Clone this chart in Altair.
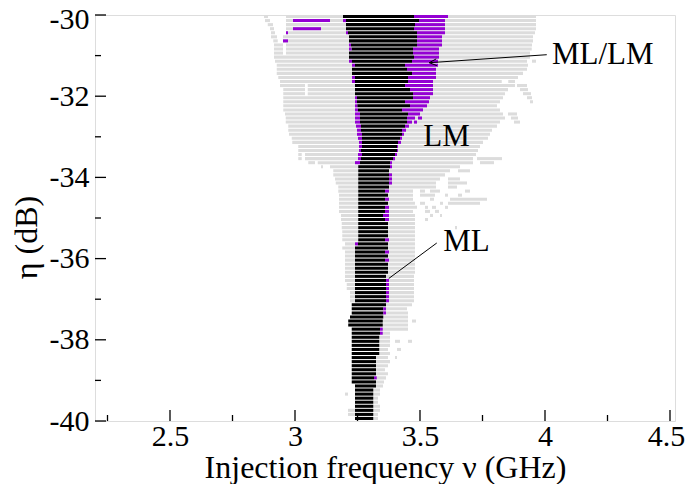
import altair as alt
import pandas as pd

# ---- data (η rows in dB, frequencies in GHz) ----
eta = [-30.0, -30.1, -30.2, -30.3, -30.4, -30.5, -30.6, -30.7, -30.8, -30.9,
       -31.0, -31.1, -31.2, -31.3, -31.4, -31.5, -31.6, -31.7, -31.8, -31.9,
       -32.0, -32.1, -32.2, -32.3, -32.4, -32.5, -32.6, -32.7, -32.8, -32.9,
       -33.0, -33.1, -33.2, -33.3, -33.4, -33.5, -33.6, -33.7, -33.8, -33.9,
       -34.0, -34.1, -34.2, -34.3, -34.4, -34.5, -34.6, -34.7, -34.8, -34.9,
       -35.0, -35.1, -35.2, -35.3, -35.4, -35.5, -35.6, -35.7, -35.8, -35.9,
       -36.0, -36.1, -36.2, -36.3, -36.4, -36.5, -36.6, -36.7, -36.8, -36.9,
       -37.0, -37.1, -37.2, -37.3, -37.4, -37.5, -37.6, -37.7, -37.8, -37.9,
       -38.0, -38.1, -38.2, -38.3, -38.4, -38.5, -38.6, -38.7, -38.8, -38.9,
       -39.0, -39.1, -39.2, -39.3, -39.4, -39.5, -39.6, -39.7, -39.8, -39.9]

gray_left = [2.876, 2.880, 2.891, 2.900, 2.904, 2.904, 2.913, 2.916, 2.916, 2.916,
             2.916, 2.920, 2.927, 2.927, 2.927, 2.933, 2.940, 2.940, 2.953, 2.953,
             2.953, 2.953, 2.953, 2.953, 2.960, 2.963, 2.963, 2.973, 2.973, 2.976,
             2.987, 2.989, 3.013, 3.013, 3.013, 3.013, 3.053, 3.104, 3.153, 3.153,
             3.160, 3.163, 3.173, 3.173, 3.176, 3.176, 3.176, 3.176, 3.176, 3.184,
             3.184, 3.187, 3.187, 3.189, 3.189, 3.189, 3.200, 3.189, 3.200, 3.200,
             3.200, 3.200, 3.200, 3.200, 3.200, 3.200, 3.207, 3.207, 3.220, 3.220,
             3.220, 3.227, 3.227, 3.227, 3.220, 3.213, 3.213, 3.227, 3.227, 3.227,
             3.227, 3.227, 3.227, 3.227, 3.227, 3.227, 3.227, 3.227, 3.227, 3.227,
             3.227, 3.240, 3.240, 3.240, 3.240, 3.240, 3.240, 3.240, 3.240, 3.240]

gray_right = [3.964, 3.964, 3.964, 3.964, 3.960, 3.952, 3.952, 3.948, 3.947, 3.940,
              3.940, 3.928, 3.932, 3.928, 3.912, 3.892, 3.880, 3.880, 3.852, 3.840,
              3.832, 3.820, 3.808, 3.820, 3.832, 3.840, 3.820, 3.808, 3.788, 3.780,
              3.772, 3.752, 3.740, 3.732, 3.724, 3.712, 3.712, 3.660, 3.620, 3.600,
              3.580, 3.564, 3.564, 3.472, 3.472, 3.472, 3.480, 3.488, 3.472, 3.480,
              3.480, 3.480, 3.480, 3.480, 3.480, 3.480, 3.480, 3.480, 3.480, 3.480,
              3.480, 3.480, 3.480, 3.480, 3.476, 3.476, 3.476, 3.476, 3.476, 3.476,
              3.476, 3.468, 3.448, 3.452, 3.452, 3.452, 3.452, 3.452, 3.380, 3.380,
              3.380, 3.380, 3.372, 3.380, 3.372, 3.380, 3.372, 3.360, 3.372, 3.364,
              3.356, 3.352, 3.340, 3.340, 3.332, 3.332, 3.340, 3.340, 3.332, 3.332]

black_left = [3.192, 3.204, 3.204, 3.204, 3.212, 3.216, 3.216, 3.224, 3.226, 3.216,
              3.216, 3.228, 3.240, 3.228, 3.228, 3.240, 3.240, 3.240, 3.240, 3.240,
              3.248, 3.248, 3.249, 3.252, 3.260, 3.260, 3.260, 3.264, 3.264, 3.268,
              3.268, 3.268, 3.268, 3.264, 3.268, 3.264, 3.260, 3.253, 3.253, 3.253,
              3.253, 3.253, 3.253, 3.253, 3.253, 3.253, 3.253, 3.253, 3.253, 3.253,
              3.253, 3.253, 3.253, 3.253, 3.253, 3.253, 3.252, 3.240, 3.240, 3.240,
              3.240, 3.240, 3.240, 3.240, 3.240, 3.240, 3.240, 3.240, 3.240, 3.240,
              3.240, 3.227, 3.227, 3.227, 3.220, 3.213, 3.213, 3.227, 3.227, 3.227,
              3.227, 3.227, 3.227, 3.227, 3.227, 3.227, 3.227, 3.227, 3.227, 3.227,
              3.227, 3.240, 3.240, 3.240, 3.240, 3.240, 3.240, 3.240, 3.240, 3.240]

black_right = [3.476, 3.496, 3.480, 3.476, 3.488, 3.488, 3.488, 3.488, 3.472, 3.472,
               3.476, 3.468, 3.440, 3.448, 3.468, 3.452, 3.452, 3.440, 3.460, 3.472,
               3.472, 3.440, 3.460, 3.428, 3.452, 3.448, 3.448, 3.440, 3.428, 3.428,
               3.420, 3.412, 3.408, 3.408, 3.400, 3.392, 3.380, 3.380, 3.376, 3.376,
               3.376, 3.376, 3.376, 3.360, 3.372, 3.360, 3.372, 3.360, 3.360, 3.352,
               3.360, 3.372, 3.372, 3.372, 3.372, 3.360, 3.372, 3.372, 3.360, 3.372,
               3.360, 3.372, 3.372, 3.372, 3.364, 3.364, 3.364, 3.364, 3.364, 3.364,
               3.364, 3.364, 3.353, 3.353, 3.353, 3.351, 3.351, 3.340, 3.340, 3.337,
               3.337, 3.337, 3.337, 3.337, 3.324, 3.324, 3.324, 3.324, 3.324, 3.316,
               3.324, 3.324, 3.313, 3.313, 3.313, 3.313, 3.313, 3.313, 3.313, 3.313]

# purple (ML/LM) on the left of the black band starts here (== black_left: none)
purple_left = [3.192, 3.192, 3.204, 3.204, 3.204, 3.216, 3.216, 3.216, 3.216, 3.216,
               3.216, 3.216, 3.228, 3.228, 3.228, 3.228, 3.228, 3.240, 3.240, 3.240,
               3.240, 3.240, 3.240, 3.240, 3.240, 3.240, 3.240, 3.244, 3.248, 3.248,
               3.252, 3.256, 3.256, 3.256, 3.252, 3.252, 3.240, 3.253, 3.253, 3.253,
               3.253, 3.253, 3.253, 3.253, 3.253, 3.253, 3.253, 3.253, 3.253, 3.253,
               3.253, 3.253, 3.253, 3.253, 3.253, 3.253, 3.240, 3.240, 3.240, 3.240,
               3.240, 3.240, 3.240, 3.240, 3.240, 3.240, 3.240, 3.240, 3.240, 3.240,
               3.240, 3.227, 3.227, 3.227, 3.220, 3.213, 3.213, 3.227, 3.227, 3.227,
               3.227, 3.227, 3.227, 3.227, 3.227, 3.227, 3.227, 3.227, 3.227, 3.227,
               3.227, 3.240, 3.240, 3.240, 3.240, 3.240, 3.240, 3.240, 3.240, 3.240]

# purple (ML/LM) on the right of the black band ends here (== black_right: none)
purple_right = [3.612, 3.600, 3.600, 3.600, 3.600, 3.588, 3.588, 3.588, 3.576, 3.576,
                3.576, 3.572, 3.572, 3.564, 3.564, 3.564, 3.552, 3.552, 3.552, 3.552,
                3.540, 3.536, 3.528, 3.512, 3.500, 3.480, 3.468, 3.456, 3.444, 3.436,
                3.428, 3.424, 3.412, 3.412, 3.408, 3.400, 3.388, 3.388, 3.376, 3.388,
                3.388, 3.388, 3.376, 3.376, 3.372, 3.376, 3.372, 3.376, 3.376, 3.376,
                3.376, 3.372, 3.372, 3.372, 3.372, 3.376, 3.372, 3.372, 3.376, 3.372,
                3.376, 3.372, 3.372, 3.372, 3.364, 3.376, 3.376, 3.376, 3.376, 3.376,
                3.376, 3.364, 3.364, 3.364, 3.353, 3.351, 3.351, 3.351, 3.351, 3.337,
                3.337, 3.337, 3.337, 3.337, 3.324, 3.324, 3.324, 3.324, 3.324, 3.327,
                3.324, 3.324, 3.313, 3.313, 3.313, 3.313, 3.313, 3.313, 3.313, 3.313]

# white holes inside the grey rows: (row index, from, to)
gray_gaps = [(0, 2.892, 2.964), (1, 2.900, 2.964), (2, 2.912, 2.964), (3, 2.916, 2.964),
             (4, 2.920, 2.964), (5, 2.928, 2.952), (6, 2.931, 2.952), (7, 2.952, 2.964),
             (8, 2.952, 2.964), (9, 2.952, 2.964), (16, 3.827, 3.853),
             (17, 3.040, 3.051), (18, 3.040, 3.051), (19, 3.040, 3.051),
             (34, 3.027, 3.040), (35, 3.027, 3.040), (36, 3.080, 3.091), (37, 3.112, 3.140)]

# detached grey pieces (the "feathers"): (row index, from, to)
gray_pieces = [(11, 3.948, 3.964), (17, 3.888, 3.928), (18, 3.900, 3.932), (19, 3.912, 3.944),
               (20, 3.928, 3.948), (21, 3.940, 3.952), (24, 3.852, 3.888), (25, 3.864, 3.892),
               (26, 3.876, 3.900), (35, 3.728, 3.828), (36, 3.740, 3.796), (38, 3.652, 3.700),
               (40, 3.612, 3.660), (41, 3.612, 3.688), (42, 3.612, 3.648),
               (43, 3.500, 3.520), (43, 3.540, 3.580), (43, 3.680, 3.700),
               (44, 3.500, 3.560), (44, 3.600, 3.612), (44, 3.652, 3.668),
               (45, 3.540, 3.556), (45, 3.620, 3.768),
               (46, 3.500, 3.520), (46, 3.580, 3.592), (46, 3.612, 3.740),
               (47, 3.520, 3.532), (47, 3.548, 3.564), (47, 3.600, 3.612),
               (48, 3.520, 3.540), (48, 3.560, 3.576), (49, 3.540, 3.552), (49, 3.580, 3.588),
               (50, 3.520, 3.532), (52, 3.640, 3.648), (75, 3.468, 3.484),
               (80, 3.400, 3.420), (80, 3.452, 3.468), (82, 3.408, 3.424), (84, 3.400, 3.408),
               (93, 3.200, 3.212), (97, 3.212, 3.240), (98, 3.212, 3.240)]

# detached purple pieces: (row index, from, to)
purple_pieces = [(1, 2.992, 3.140), (3, 2.992, 3.104), (4, 2.964, 2.972), (6, 2.952, 2.972),
                 (25, 3.492, 3.508), (26, 3.476, 3.488)]

tick_major_x = [2.5, 3.0, 3.5, 4.0, 4.5]
tick_minor_x = [2.25, 2.75, 3.25, 3.75, 4.25]
tick_major_y = [-40, -38, -36, -34, -32, -30]
tick_minor_y = [-39, -37, -35, -33, -31]

labels = ["ML/LM", "LM", "ML"]
label_x = [4.028, 3.513, 3.593]
label_y = [-31.207, -33.227, -35.820]

# annotation strokes: line + arrow head for ML/LM, line for ML
ann_x = [4.007, 3.537, 3.537, 3.567]
ann_x2 = [3.537, 3.565, 3.567, 3.375]
ann_y = [-30.978, -31.175, -31.175, -35.616]
ann_y2 = [-31.175, -31.080, -31.246, -36.490]

ROW_H = 0.075
GRAY, BLACK, PURPLE = "#dcdcdc", "#000000", "#9400d3"

# ---- build rectangles ----
recs = []
for k, e in enumerate(eta):
    segs = [(gray_left[k], gray_right[k])]
    for (r, a, b) in sorted(g for g in gray_gaps if g[0] == k):
        new = []
        for (s0, s1) in segs:
            if b <= s0 or a >= s1:
                new.append((s0, s1))
            else:
                if a > s0:
                    new.append((s0, a))
                if b < s1:
                    new.append((b, s1))
        segs = new
    for (s0, s1) in segs:
        recs.append(dict(x=s0, x2=s1, y=e, y2=e - ROW_H, kind="LM"))
for (r, a, b) in gray_pieces:
    recs.append(dict(x=a, x2=b, y=eta[r], y2=eta[r] - ROW_H, kind="LM"))
for k, e in enumerate(eta):
    recs.append(dict(x=black_left[k], x2=black_right[k], y=e, y2=e - ROW_H, kind="ML"))
for k, e in enumerate(eta):
    if purple_left[k] < black_left[k]:
        recs.append(dict(x=purple_left[k], x2=black_left[k], y=e, y2=e - ROW_H, kind="ML/LM"))
    if purple_right[k] > black_right[k]:
        recs.append(dict(x=black_right[k], x2=purple_right[k], y=e, y2=e - ROW_H, kind="ML/LM"))
for (r, a, b) in purple_pieces:
    recs.append(dict(x=a, x2=b, y=eta[r], y2=eta[r] - ROW_H, kind="ML/LM"))
recs = pd.DataFrame(recs)
recs["order"] = range(len(recs))

FONT = "Liberation Serif"
xs = alt.Scale(domain=[2.2, 4.52], nice=False, zero=False)
ys = alt.Scale(domain=[-40, -30], nice=False, zero=False)

W, H = 580, 406

cells = alt.Chart(recs).mark_rect(strokeWidth=0).encode(
    x=alt.X("x:Q", scale=xs, axis=alt.Axis(
        values=tick_major_x, labelExpr="'' + datum.value", title="Injection frequency ν (GHz)",
        grid=False, ticks=False, domain=False, labelFont=FONT, labelFontSize=30,
        labelOffset={"expr": "datum.value == 4.5 ? -4 : 0"},
        titleFont=FONT, titleFontSize=32, titleFontWeight="normal", labelColor="black",
        titleColor="black", labelPadding=0, titleBaseline="alphabetic", titleY=56,
        labelFlush=False)),
    x2="x2:Q",
    y=alt.Y("y:Q", scale=ys, axis=alt.Axis(
        values=tick_major_y, labelExpr="'' + datum.value", title="η (dB)",
        grid=False, ticks=False, domain=False, labelFont=FONT, labelFontSize=30,
        labelOffset={"expr": "datum.value == -30 ? 4 : 0"},
        titleFont=FONT, titleFontSize=32, titleFontWeight="normal", labelColor="black",
        titleColor="black", labelPadding=6, titleX=-52, titleY=222, labelFlush=False)),
    y2="y2:Q",
    color=alt.Color("kind:N", scale=alt.Scale(domain=["LM", "ML", "ML/LM"],
                                              range=[GRAY, BLACK, PURPLE]), legend=None),
    order="order:Q",
)


def xtick_layer(vals, length):
    d = pd.DataFrame({"v": vals})
    return alt.Chart(d).mark_rule(color="black", strokeWidth=1.3).encode(
        x=alt.X("v:Q", scale=xs), y=alt.value(H - length), y2=alt.value(H))


def ytick_layer(vals, length):
    d = pd.DataFrame({"v": vals})
    return alt.Chart(d).mark_rule(color="black", strokeWidth=1.3).encode(
        y=alt.Y("v:Q", scale=ys), x=alt.value(0), x2=alt.value(length))


adf = pd.DataFrame({"x": ann_x, "x2": ann_x2, "y": ann_y, "y2": ann_y2})
ann = alt.Chart(adf).mark_rule(color="black", strokeWidth=1).encode(
    x=alt.X("x:Q", scale=xs), x2="x2:Q", y=alt.Y("y:Q", scale=ys), y2="y2:Q")

ldf = pd.DataFrame({"t": labels, "x": label_x, "y": label_y})
txt = alt.Chart(ldf).mark_text(font=FONT, fontSize=31, align="left",
                               baseline="alphabetic", color="black").encode(
    x=alt.X("x:Q", scale=xs), y=alt.Y("y:Q", scale=ys), text="t:N")

chart = alt.layer(
    cells,
    xtick_layer(tick_major_x, 11), xtick_layer(tick_minor_x, 6),
    ytick_layer(tick_major_y, 11), ytick_layer(tick_minor_y, 6),
    ann, txt,
).properties(
    width=W, height=H,
    autosize=alt.AutoSizeParams(type="none"),
    padding={"left": 87, "top": 7, "right": 10, "bottom": 63},
).configure_view(stroke="black", strokeWidth=1.5).configure_axis(
    labelFont=FONT, titleFont=FONT
).configure(background="white")

chart.save("out.html", embed_options={"renderer": "svg", "actions": False})
